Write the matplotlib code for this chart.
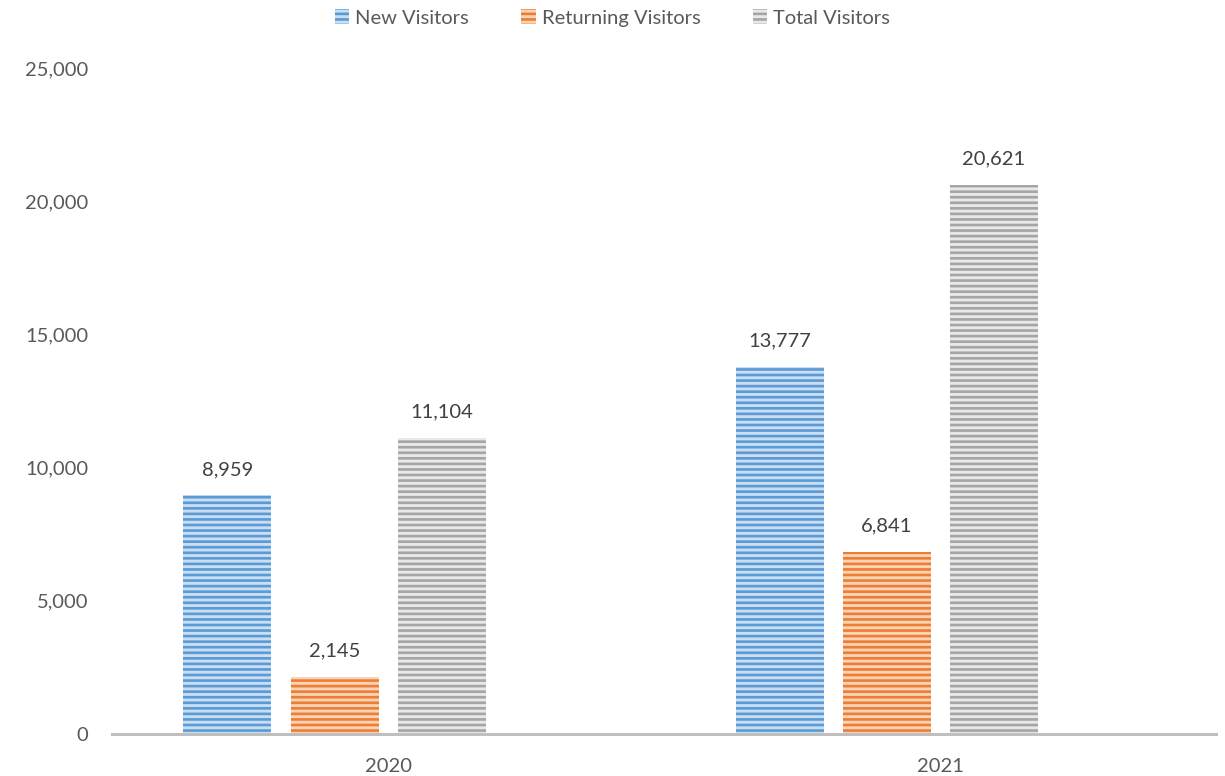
import matplotlib
matplotlib.use("Agg")
import matplotlib.pyplot as plt
import numpy as np

years = ["2020", "2021"]
series_names = ["New Visitors", "Returning Visitors", "Total Visitors"]
new_visitors = [8959, 13777]
returning_visitors = [2145, 6841]
total_visitors = [11104, 20621]
y_ticks = [0, 5000, 10000, 15000, 20000, 25000]

base_colors = ["#5B9BD5", "#ED7D31", "#A5A5A5"]
light_colors = ["#C9DEF2", "#F9D3B8", "#E8E8E8"]

plt.rcParams['font.family'] = ['Lato', 'DejaVu Sans']
plt.rcParams['hatch.linewidth'] = 1.9

fig = plt.figure(figsize=(12.25, 7.76), dpi=100)
ax = fig.add_axes([112/1225, 1 - 734/776, (1216-112)/1225, (734-68)/776])

x = np.arange(len(years))
width = 88/552
step = 107/552
values = [new_visitors, returning_visitors, total_visitors]
for i, (name, vals) in enumerate(zip(series_names, values)):
    pos = x + (i - 1.5) * step
    bars = ax.bar(pos, vals, width=width, color=light_colors[i], edgecolor=base_colors[i],
                  linewidth=0, hatch='---', label=name)
    for b, v in zip(bars, vals):
        ax.text(b.get_x() + b.get_width()/2, v + 650, f"{v:,}", ha='center', va='bottom',
                fontsize=14.5, color='#404040')

ax.set_xlim(-0.5, 1.5)
ax.set_ylim(0, 25000)
ax.set_yticks(y_ticks)
ax.set_yticklabels([f"{t:,}" for t in y_ticks], fontsize=14.5, color='#595959')
ax.set_xticks(x)
ax.set_xticklabels(years, fontsize=14.5, color='#595959')
ax.tick_params(axis='both', length=0)
ax.tick_params(axis='y', pad=17)
ax.tick_params(axis='x', pad=17)
for s in ['top', 'right', 'left']:
    ax.spines[s].set_visible(False)
ax.spines['bottom'].set_color('#BFBFBF')
ax.spines['bottom'].set_linewidth(2.2)

leg = fig.legend(loc='upper center', bbox_to_anchor=(0.5, 1.012), ncol=3, frameon=False,
                 fontsize=14.5, handlelength=0.7, handleheight=0.8, handletextpad=0.3,
                 columnspacing=2.6)
for t in leg.get_texts():
    t.set_color('#595959')

fig.savefig("out.png", dpi=100)
